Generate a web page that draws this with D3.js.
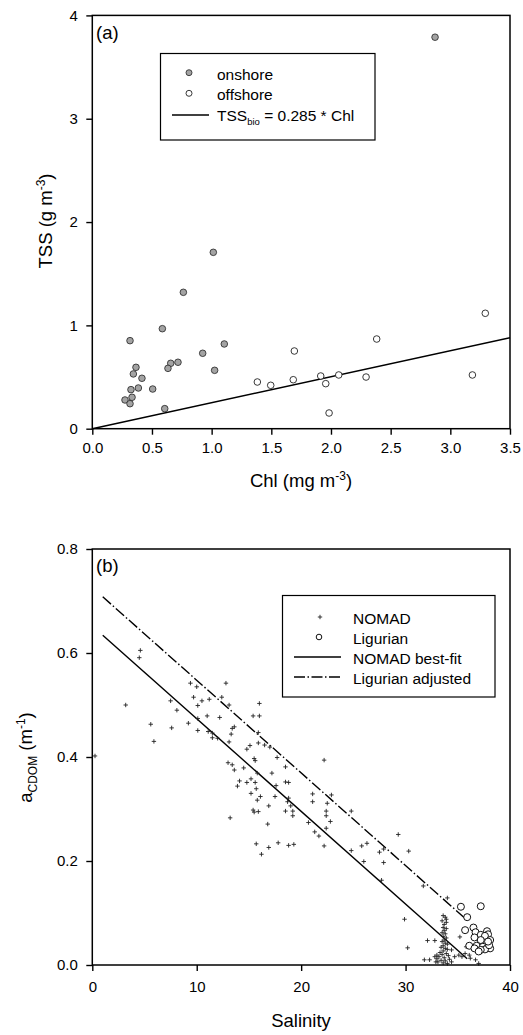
<!DOCTYPE html>
<html>
<head>
<meta charset="utf-8">
<script src="https://cdn.jsdelivr.net/npm/d3@7"></script>
<style>
  body { margin: 0; background: #fff; }
  text { font-family: "Liberation Sans", Arial, sans-serif; fill: #000; }
</style>
</head>
<body>
<div id="chart"></div>
<script>
// ---- data: panel (a) Chl vs TSS
const onshore = [
  [1.014, 1.707], [0.763, 1.32], [0.587, 0.968], [0.316, 0.852], [1.106, 0.82],
  [0.925, 0.73], [0.718, 0.643], [0.657, 0.633], [0.634, 0.584], [0.366, 0.594],
  [0.344, 0.53], [0.416, 0.488], [1.025, 0.565], [0.506, 0.384], [0.386, 0.394],
  [0.324, 0.378], [0.274, 0.278], [0.333, 0.304], [0.316, 0.242], [0.607, 0.194],
  [2.872, 3.789]
]
const offshore = [
  [3.293, 1.117], [2.383, 0.868], [1.693, 0.752], [1.383, 0.452], [1.495, 0.42],
  [1.684, 0.474], [1.914, 0.51], [1.956, 0.436], [2.065, 0.52], [2.294, 0.5],
  [1.984, 0.152], [3.185, 0.52]
]
const tssBioLine = [[0, 0], [3.5, 0.88]]
const chlTicks = [0, 0.5, 1, 1.5, 2, 2.5, 3, 3.5]
const tssTicks = [0, 1, 2, 3, 4]

// ---- data: panel (b) Salinity vs aCDOM
const nomad = [
  [0.26, 0.402], [3.2, 0.50], [4.5, 0.591], [4.6, 0.605], [5.6, 0.463], [5.9, 0.43],
  [7.5, 0.508], [7.6, 0.456], [8.1, 0.49], [9.2, 0.465], [9.4, 0.542], [9.7, 0.515],
  [10.0, 0.535], [10.1, 0.499], [10.1, 0.474], [10.1, 0.451], [10.5, 0.508], [11.0, 0.479],
  [11.1, 0.449], [11.2, 0.511], [11.5, 0.446], [11.5, 0.437], [12.0, 0.436], [12.2, 0.476],
  [12.4, 0.515], [12.8, 0.542], [13.1, 0.5], [13.4, 0.455], [13.6, 0.458], [13.3, 0.444],
  [13.1, 0.429], [15.9, 0.447], [15.9, 0.427], [16.0, 0.503], [15.4, 0.479], [16.0, 0.479],
  [15.1, 0.422], [14.8, 0.415], [15.5, 0.397], [15.6, 0.393], [13.0, 0.389], [13.4, 0.385],
  [13.6, 0.375], [14.5, 0.379], [15.8, 0.369], [14.1, 0.354], [13.9, 0.344], [14.8, 0.351],
  [15.2, 0.358], [15.6, 0.351], [15.7, 0.339], [15.2, 0.33], [16.1, 0.324], [15.8, 0.317],
  [15.4, 0.298], [15.5, 0.294], [15.9, 0.295], [13.2, 0.283], [15.7, 0.233], [16.2, 0.213],
  [16.5, 0.423], [17.0, 0.419], [17.7, 0.399], [22.2, 0.394], [18.5, 0.381], [17.2, 0.369],
  [17.6, 0.345], [18.5, 0.352], [18.8, 0.351], [17.5, 0.324], [18.8, 0.321], [18.7, 0.314],
  [19.0, 0.306], [16.9, 0.306], [18.5, 0.296], [19.2, 0.296], [19.2, 0.287], [21.1, 0.329],
  [21.1, 0.314], [22.5, 0.311], [22.9, 0.327], [22.4, 0.296], [22.4, 0.287], [22.8, 0.276],
  [22.4, 0.263], [24.8, 0.296], [20.7, 0.274], [16.8, 0.271], [21.3, 0.256], [21.7, 0.248],
  [22.2, 0.229], [16.9, 0.226], [17.8, 0.235], [18.8, 0.23], [19.3, 0.232], [24.8, 0.22],
  [25.8, 0.229], [26.3, 0.234], [29.3, 0.251], [27.5, 0.217], [27.9, 0.223], [30.3, 0.219],
  [26.0, 0.199], [27.9, 0.197], [27.7, 0.163], [31.7, 0.152], [34.0, 0.129], [29.9, 0.088],
  [30.2, 0.033], [32.1, 0.047], [32.8, 0.047], [31.8, 0.01], [32.3, 0.01], [35.2, 0.054],
  [33.9, 0.088], [33.0, 0.019], [32.8, 0.016], [34.4, 0.029], [34.7, 0.016], [35.1, 0.019],
  [35.4, 0.016], [35.7, 0.022], [36.1, 0.019], [36.2, 0.013], [36.7, 0.01], [37.0, 0.003],
  [35.8, 0.035],
  // dense cluster near salinity 34
  [33.6, 0.095], [33.8, 0.092], [33.5, 0.085], [33.9, 0.082], [33.7, 0.078], [33.6, 0.072],
  [33.9, 0.07], [33.7, 0.066], [33.5, 0.062], [33.8, 0.06], [33.6, 0.055], [33.9, 0.052],
  [33.7, 0.048], [33.5, 0.045], [33.8, 0.042], [34.0, 0.04], [33.6, 0.037], [33.4, 0.034],
  [33.8, 0.032], [34.0, 0.03], [33.6, 0.027], [33.3, 0.024], [33.9, 0.022], [33.5, 0.02],
  [34.1, 0.018], [33.2, 0.016], [33.7, 0.014], [33.0, 0.012], [34.2, 0.011], [33.4, 0.009],
  [33.8, 0.008], [33.1, 0.006], [34.4, 0.006], [33.6, 0.004], [34.0, 0.003], [32.9, 0.006]
]
const ligurian = [
  [35.3, 0.112], [37.2, 0.113], [35.9, 0.092], [35.7, 0.067], [36.5, 0.072], [36.7, 0.063],
  [37.2, 0.058], [37.8, 0.065], [37.9, 0.059], [37.6, 0.056], [36.6, 0.053], [38.1, 0.048],
  [37.2, 0.048], [36.1, 0.037], [36.8, 0.037], [37.4, 0.035], [37.8, 0.032], [38.1, 0.032],
  [37.6, 0.03], [37.2, 0.029], [36.6, 0.032], [38.0, 0.038], [37.0, 0.026], [37.9, 0.045]
]
const nomadBestFit = [[1.0, 0.634], [35.9, 0.012]]
const ligurianAdjusted = [[1.0, 0.708], [35.9, 0.086]]
const salTicks = [0, 10, 20, 30, 40]
const cdomTicks = [0, 0.2, 0.4, 0.6, 0.8]

// ---- drawing area
const W = 523, H = 1035
const svg = d3.select('#chart').append('svg')
  .attr('width', W).attr('height', H)

const left = 92.3, right = 510
const grey = '#a3a3a3'
const dashDot = '11,2.5,1.5,2.5'
const tickFont = 15, legFont = 15.5, titleFont = 18.5

function frame(g, x, y) {
  g.append('rect')
    .attr('x', x.range()[0]).attr('y', y.range()[1])
    .attr('width', x.range()[1] - x.range()[0])
    .attr('height', y.range()[0] - y.range()[1])
    .attr('fill', 'none').attr('stroke', '#000').attr('stroke-width', 1.5)
}

function axes(g, x, y, xt, yt, xf, yf, xpad) {
  const ax = g.append('g')
    .attr('transform', `translate(0,${y.range()[0]})`)
    .call(d3.axisBottom(x).tickValues(xt).tickFormat(xf).tickSize(6).tickPadding(xpad))
  const ay = g.append('g')
    .attr('transform', `translate(${x.range()[0]},0)`)
    .call(d3.axisLeft(y).tickValues(yt).tickFormat(yf).tickSize(6).tickPadding(8.5))
  for (const a of [ax, ay]) {
    a.select('.domain').remove()
    a.selectAll('.tick line').attr('stroke', '#000').attr('stroke-width', 1.4)
    a.selectAll('.tick text').attr('font-size', tickFont)
      .attr('font-family', '"Liberation Sans", Arial, sans-serif').attr('fill', '#000')
  }
}

// ================= panel (a)
const xa = d3.scaleLinear().domain([0, 3.5]).range([left, right])
const ya = d3.scaleLinear().domain([0, 4]).range([428.7, 15.4])
const ga = svg.append('g')

ga.append('path')
  .datum(tssBioLine)
  .attr('d', d3.line().x(d => xa(d[0])).y(d => ya(d[1])))
  .attr('fill', 'none').attr('stroke', '#000').attr('stroke-width', 1.4)

ga.selectAll('circle.on').data(onshore).join('circle')
  .attr('cx', d => xa(d[0])).attr('cy', d => ya(d[1])).attr('r', 3.3)
  .attr('fill', grey).attr('stroke', '#222').attr('stroke-width', 0.8)

ga.selectAll('circle.off').data(offshore).join('circle')
  .attr('cx', d => xa(d[0])).attr('cy', d => ya(d[1])).attr('r', 3.3)
  .attr('fill', '#fff').attr('stroke', '#222').attr('stroke-width', 0.9)

frame(ga, xa, ya)
axes(ga, xa, ya, chlTicks, tssTicks, d3.format('.1f'), d3.format('d'), 7.5)

ga.append('text').attr('x', 96).attr('y', 38.5).attr('font-size', titleFont).text('(a)')

// legend (a)
const la = ga.append('g')
la.append('rect').attr('x', 160.5).attr('y', 53.5).attr('width', 214.5).attr('height', 86.5)
  .attr('fill', '#fff').attr('stroke', '#000').attr('stroke-width', 1.2)
la.append('circle').attr('cx', 189).attr('cy', 72.7).attr('r', 3)
  .attr('fill', grey).attr('stroke', '#222').attr('stroke-width', 0.8)
la.append('circle').attr('cx', 189).attr('cy', 93.3).attr('r', 3)
  .attr('fill', '#fff').attr('stroke', '#222').attr('stroke-width', 0.9)
la.append('line').attr('x1', 172).attr('x2', 209).attr('y1', 115).attr('y2', 115)
  .attr('stroke', '#000').attr('stroke-width', 1.4)
la.append('text').attr('x', 217).attr('y', 79.5).attr('font-size', legFont).text('onshore')
la.append('text').attr('x', 217).attr('y', 100).attr('font-size', legFont).text('offshore')
const lt = la.append('text').attr('x', 217).attr('y', 120.5).attr('font-size', legFont)
lt.append('tspan').text('TSS')
lt.append('tspan').attr('font-size', 9.5).attr('dy', 4).text('bio')
lt.append('tspan').attr('dy', -4).text(' = 0.285 * Chl')

// axis titles (a)
const xta = ga.append('text').attr('x', 301).attr('y', 487).attr('text-anchor', 'middle').attr('font-size', titleFont)
xta.append('tspan').text('Chl (mg m')
xta.append('tspan').attr('font-size', 12).attr('dy', -7).text('-3')
xta.append('tspan').attr('dy', 7).text(')')

const yta = ga.append('text').attr('transform', 'translate(52,221) rotate(-90)')
  .attr('text-anchor', 'middle').attr('font-size', titleFont)
yta.append('tspan').text('TSS (g m')
yta.append('tspan').attr('font-size', 12).attr('dy', -7).text('-3')
yta.append('tspan').attr('dy', 7).text(')')

// ================= panel (b)
const xb = d3.scaleLinear().domain([0, 40]).range([left, right])
const yb = d3.scaleLinear().domain([0, 0.8]).range([965, 549])
const gb = svg.append('g')

const lineB = d3.line().x(d => xb(d[0])).y(d => yb(d[1]))
gb.append('path').datum(nomadBestFit).attr('d', lineB)
  .attr('fill', 'none').attr('stroke', '#000').attr('stroke-width', 1.4)
gb.append('path').datum(ligurianAdjusted).attr('d', lineB)
  .attr('fill', 'none').attr('stroke', '#000').attr('stroke-width', 1.4)
  .attr('stroke-dasharray', dashDot)

const plus = 'M-2.2,0H2.2M0,-2.2V2.2'
gb.selectAll('path.nomad').data(nomad).join('path')
  .attr('class', 'nomad')
  .attr('transform', d => `translate(${xb(d[0])},${yb(d[1])})`)
  .attr('d', plus).attr('stroke', '#222').attr('stroke-width', 0.9).attr('fill', 'none')

gb.selectAll('circle.lig').data(ligurian).join('circle')
  .attr('class', 'lig')
  .attr('cx', d => xb(d[0])).attr('cy', d => yb(d[1])).attr('r', 3.5)
  .attr('fill', '#fff').attr('stroke', '#111').attr('stroke-width', 1)

frame(gb, xb, yb)
axes(gb, xb, yb, salTicks, cdomTicks, d3.format('d'), d3.format('.1f'), 10.5)

gb.append('text').attr('x', 96).attr('y', 572).attr('font-size', titleFont).text('(b)')

// legend (b)
const lb = gb.append('g')
lb.append('rect').attr('x', 282.5).attr('y', 595.5).attr('width', 212.5).attr('height', 101.5)
  .attr('fill', '#fff').attr('stroke', '#000').attr('stroke-width', 1.2)
lb.append('path').attr('transform', 'translate(320,617)').attr('d', plus)
  .attr('stroke', '#222').attr('stroke-width', 0.9)
lb.append('circle').attr('cx', 319).attr('cy', 637).attr('r', 2.8)
  .attr('fill', '#fff').attr('stroke', '#111').attr('stroke-width', 1)
lb.append('line').attr('x1', 294).attr('x2', 341).attr('y1', 657).attr('y2', 657)
  .attr('stroke', '#000').attr('stroke-width', 1.4)
lb.append('line').attr('x1', 294).attr('x2', 341).attr('y1', 677).attr('y2', 677)
  .attr('stroke', '#000').attr('stroke-width', 1.4).attr('stroke-dasharray', dashDot)
const bNames = ['NOMAD', 'Ligurian', 'NOMAD best-fit', 'Ligurian adjusted']
lb.selectAll('text.lab').data(bNames).join('text')
  .attr('class', 'lab')
  .attr('x', 353).attr('y', (d, i) => 623.5 + i * 20)
  .attr('font-size', legFont).text(d => d)

// axis titles (b)
gb.append('text').attr('x', 301).attr('y', 1026.5).attr('text-anchor', 'middle')
  .attr('font-size', titleFont).text('Salinity')

const ytb = gb.append('text').attr('transform', 'translate(32,757.5) rotate(-90)')
  .attr('text-anchor', 'middle').attr('font-size', titleFont)
ytb.append('tspan').text('a')
ytb.append('tspan').attr('font-size', 12).attr('dy', 4.5).text('CDOM')
ytb.append('tspan').attr('dy', -4.5).text(' (m')
ytb.append('tspan').attr('font-size', 12).attr('dy', -7).text('-1')
ytb.append('tspan').attr('dy', 7).text(')')
</script>
</body>
</html>
